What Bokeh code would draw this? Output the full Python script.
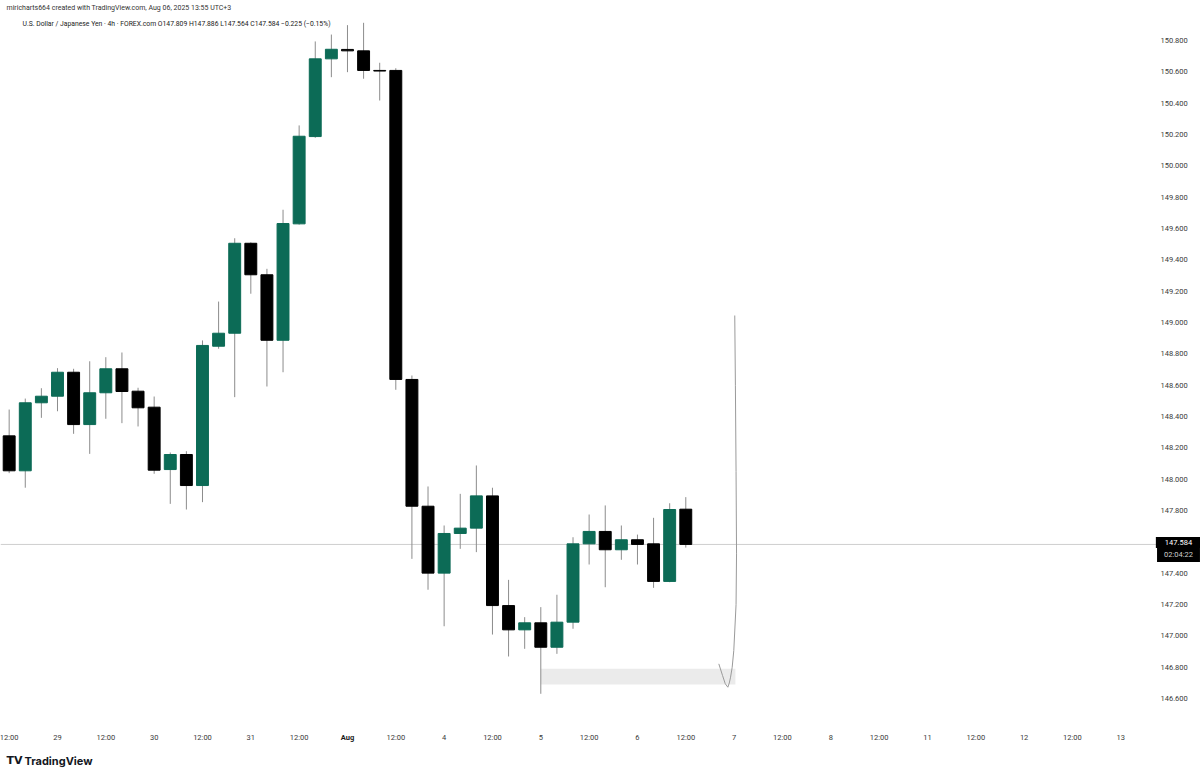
from bokeh.plotting import figure
from bokeh.models import Range1d, Label, ColumnDataSource
from bokeh.core.properties import value
from bokeh.embed import file_html
from bokeh.resources import INLINE

# ---------------- data ----------------
opens = [148.277, 148.054, 148.488, 148.530, 148.683, 148.349, 148.552, 148.705, 148.562, 148.460,
         148.062, 148.158, 147.960, 148.849, 148.932, 149.506, 149.305, 148.887, 149.630, 150.187,
         150.683, 150.743, 150.734, 150.609, 150.609, 148.637, 147.828, 147.401, 147.654, 147.688,
         147.894, 147.194, 147.039, 147.084, 146.928, 147.088, 147.588, 147.667, 147.550, 147.614,
         147.588, 147.348, 147.809]
highs = [148.445, 148.515, 148.581, 148.709, 148.705, 148.753, 148.779, 148.809, 148.584, 148.528,
         148.171, 148.179, 148.886, 149.134, 149.538, 149.512, 149.343, 149.720, 150.258, 150.794,
         150.838, 150.898, 150.913, 150.658, 150.623, 148.662, 147.954, 147.705, 147.907, 148.088,
         147.946, 147.358, 147.120, 147.184, 147.263, 147.630, 147.775, 147.833, 147.705, 147.647,
         147.754, 147.847, 147.886]
lows = [148.039, 147.946, 148.392, 148.434, 148.290, 148.162, 148.386, 148.358, 148.337, 148.035,
        147.843, 147.807, 147.854, 148.833, 148.524, 149.184, 148.592, 148.683, 149.625, 150.179,
        150.566, 150.598, 150.556, 150.417, 148.571, 147.492, 147.295, 147.062, 147.556, 147.535,
        147.009, 146.869, 146.918, 146.631, 146.886, 147.046, 147.456, 147.311, 147.486, 147.456,
        147.307, 147.343, 147.564]
closes = [148.054, 148.488, 148.530, 148.683, 148.349, 148.552, 148.705, 148.560, 148.456, 148.058,
          148.158, 147.960, 148.854, 148.932, 149.506, 149.305, 148.887, 149.632, 150.189, 150.683,
          150.744, 150.734, 150.609, 150.605, 148.637, 147.828, 147.401, 147.654, 147.688, 147.894,
          147.194, 147.039, 147.084, 146.928, 147.088, 147.588, 147.667, 147.550, 147.614, 147.584,
          147.348, 147.807, 147.584]

# time axis ticks (bar index) and labels
tick_pos = [0, 3, 6, 9, 12, 15, 18, 21, 24, 27, 30, 33, 36, 39, 42, 45, 48, 51, 54, 57, 60, 63, 66, 69]
tick_labels = ["12:00", "29", "12:00", "30", "12:00", "31", "12:00", "Aug", "12:00", "4", "12:00", "5",
               "12:00", "6", "12:00", "7", "12:00", "8", "12:00", "11", "12:00", "12", "12:00", "13"]
# price axis ticks (147.600 is hidden behind the last price label)
price_ticks = [146.6, 146.8, 147.0, 147.2, 147.4, 147.8, 148.0, 148.2, 148.4, 148.6, 148.8,
               149.0, 149.2, 149.4, 149.6, 149.8, 150.0, 150.2, 150.4, 150.6, 150.8]

# demand zone drawn on chart
zone_left = [33.0]
zone_right = [45.08]
zone_bottom = [146.690]
zone_top = [146.790]

# hand drawn projection curve
curve_k = [45.04, 45.08, 45.12, 45.15, 45.12, 44.98, 44.88, 44.78, 44.70, 44.61, 44.45, 44.28, 44.05]
curve_p = [149.045, 148.60, 148.05, 147.524, 147.20, 146.907, 146.80, 146.737, 146.700, 146.673,
           146.695, 146.748, 146.822]

last_price = 147.584
countdown = "02:04:22"
header1 = "miricharts664 created with TradingView.com, Aug 06, 2025 13:55 UTC+3"
header2 = ("U.S. Dollar / Japanese Yen \u00b7 4h \u00b7 FOREX.com  O147.809 H147.886 L147.564 "
           "C147.584 \u22120.225 (\u22120.15%)")

# ---------------- layout / style ----------------
W, H = 1200, 777
BAR_PX = 16.11          # pixels per 4h bar
PRICE_PX = 156.7        # pixels per 1.000 of price
X0 = -0.538             # bar index at the left edge
Y_TOP = 151.0553        # price at the top edge
x_end = X0 + W / BAR_PX
y_bot = Y_TOP - H / PRICE_PX


def kx(px):
    return X0 + px / BAR_PX


def py(px):
    return Y_TOP - px / PRICE_PX


GREEN = "#0c6b56"
BLACK = "#000000"
FONT = "Roboto"
TXT = "#3a3a3a"

idx = list(range(len(opens)))
colors = [GREEN if c >= o else BLACK for o, c in zip(opens, closes)]
src = ColumnDataSource(dict(
    x=idx, top=[max(o, c) for o, c in zip(opens, closes)],
    bottom=[min(o, c) for o, c in zip(opens, closes)],
    high=highs, low=lows, color=colors))

p = figure(width=W, height=H, output_backend="svg", toolbar_location=None,
           x_range=Range1d(X0, x_end), y_range=Range1d(y_bot, Y_TOP),
           min_border=0, x_axis_location=None, y_axis_location=None)
p.outline_line_color = None
p.grid.visible = False
p.background_fill_color = "white"
p.border_fill_color = "white"

# last price line
p.segment(x0=[X0], x1=[kx(1157)], y0=[last_price], y1=[last_price],
          line_color="#cfcfcf", line_width=1)

# zone
p.quad(left=zone_left, right=zone_right, bottom=zone_bottom, top=zone_top,
       fill_color="#ebebeb", line_color=None)

# candles
p.segment(x0="x", x1="x", y0="low", y1="high", source=src, line_color="#8c8c8c", line_width=1)
p.vbar(x="x", top="top", bottom="bottom", width=0.74, source=src,
       fill_color="color", line_color="color", line_width=1)

# curve
p.line(curve_k, curve_p, line_color="#9a9a9a", line_width=1)

# price scale labels
p.text(x=[kx(1160)] * len(price_ticks), y=price_ticks, text=["%.3f" % t for t in price_ticks],
       text_font=value(FONT), text_font_size="7.5px", text_color=TXT,
       text_align="left", text_baseline="middle")

# time scale labels
reg = [(t, l) for t, l in zip(tick_pos, tick_labels) if l != "Aug"]
bold = [(t, l) for t, l in zip(tick_pos, tick_labels) if l == "Aug"]
p.text(x=[t for t, _ in reg], y=[py(737)] * len(reg), text=[l for _, l in reg],
       text_font=value(FONT), text_font_size="7.5px", text_color=TXT,
       text_align="center", text_baseline="middle")
p.text(x=[t for t, _ in bold], y=[py(737)] * len(bold), text=[l for _, l in bold],
       text_font=value(FONT), text_font_size="7.5px", text_color="#1a1a1a", text_font_style="bold",
       text_align="center", text_baseline="middle")

# header texts
p.add_layout(Label(x=6, y=H - 7, x_units="screen", y_units="screen", text=header1,
                   text_font=FONT, text_font_size="7px", text_color="#333333",
                   text_baseline="middle"))
p.add_layout(Label(x=22, y=H - 23, x_units="screen", y_units="screen", text=header2,
                   text_font=FONT, text_font_size="6.8px", text_color="#222222",
                   text_baseline="middle"))

# last price label box (countdown drawn first, price on top)
p.add_layout(Label(x=1178, y=H - 554, x_units="screen", y_units="screen",
                   text=countdown, text_font=FONT, text_font_size="7.5px",
                   text_color="#cfcfcf", text_align="center", text_baseline="middle",
                   background_fill_color="black", padding=(7, 3)))
p.add_layout(Label(x=1178, y=H - 542, x_units="screen", y_units="screen",
                   text="%.3f" % last_price, text_font=FONT, text_font_size="7.5px",
                   text_color="white", text_align="center", text_baseline="middle",
                   background_fill_color="black", padding=(9, 3)))

# TradingView logo
p.add_layout(Label(x=6, y=H - 760, x_units="screen", y_units="screen", text="TV",
                   text_font="DejaVu Sans", text_font_size="11px", text_font_style="bold",
                   text_color="#131722", text_baseline="middle"))
p.add_layout(Label(x=24, y=H - 760, x_units="screen", y_units="screen", text="TradingView",
                   text_font="Inter", text_font_size="11px", text_font_style="bold",
                   text_color="#131722", text_baseline="middle"))

open("out.html", "w").write(file_html(p, INLINE))
